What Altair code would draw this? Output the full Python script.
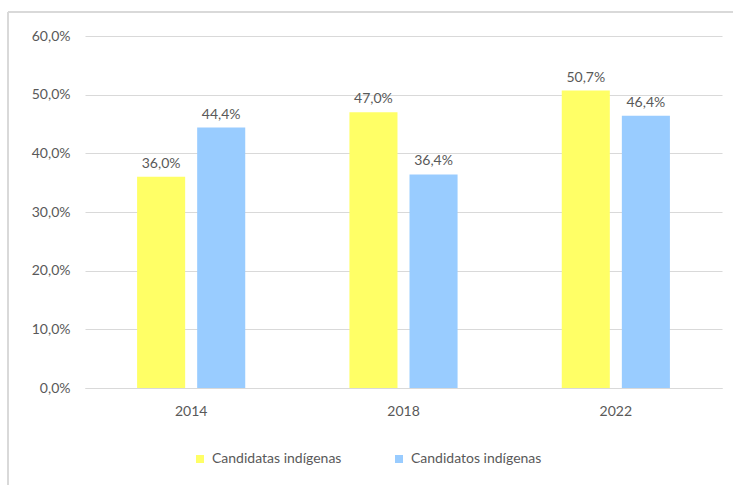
import altair as alt
import pandas as pd

years = ["2014", "2018", "2022"]
series = ["Candidatas indígenas", "Candidatos indígenas"]
candidatas = [36.0, 47.0, 50.7]
candidatos = [44.4, 36.4, 46.4]
colors = ["#FFFF66", "#99CCFF"]

rows = []
for i, y in enumerate(years):
    rows.append({"year": y, "serie": series[0], "v": candidatas[i]})
    rows.append({"year": y, "serie": series[1], "v": candidatos[i]})
df = pd.DataFrame(rows)

FONT = "Lato"
GREY = "#595959"
FS = 14
W, H = 637, 352

x = alt.X("year:N", sort=years, title=None,
          scale=alt.Scale(paddingInner=0, paddingOuter=0),
          axis=alt.Axis(labelAngle=0, ticks=False, domainColor="#d9d9d9",
                        labelPadding=16, labelFontSize=FS, labelFont=FONT,
                        labelColor=GREY, grid=False))
xo = alt.XOffset("serie:N", sort=series,
                 scale=alt.Scale(paddingInner=0.2, paddingOuter=0.867))
y = alt.Y("v:Q", title=None,
          scale=alt.Scale(domain=[0, 60], nice=False),
          axis=alt.Axis(values=[0, 10, 20, 30, 40, 50, 60], domain=False, ticks=False,
                        labelPadding=15, labelFontSize=FS, labelFont=FONT,
                        labelColor=GREY, gridColor="#d9d9d9", gridWidth=1,
                        labelExpr="replace(format(datum.value,'.1f'),'.',',') + '%'"))

color = alt.Color("serie:N", sort=series,
                  scale=alt.Scale(domain=series, range=colors),
                  legend=alt.Legend(title=None, orient="none", direction="horizontal",
                                    legendX=108, legendY=416, symbolType="square",
                                    symbolSize=64, symbolStrokeWidth=0,
                                    labelFont=FONT, labelFontSize=FS, labelColor=GREY,
                                    columnPadding=50, labelOffset=5, labelLimit=300))

bars = alt.Chart(df).mark_bar().encode(x=x, xOffset=xo, y=y, color=color)

labels = alt.Chart(df).transform_calculate(
    lab="replace(format(datum.v,'.1f'),'.',',') + '%'"
).mark_text(baseline="bottom", dy=-6, font=FONT, fontSize=FS, color=GREY).encode(
    x=x, xOffset=xo, y=y, text="lab:N")

border_left = alt.Chart(df).mark_rule(color="#d9d9d9", strokeWidth=1.5).encode(
    x=alt.value(-77), y=alt.value(-24), y2=alt.value(H + 120))
border_top = alt.Chart(df).mark_rule(color="#d9d9d9", strokeWidth=1.5).encode(
    x=alt.value(-77), x2=alt.value(W + 40), y=alt.value(-24))

chart = alt.layer(bars, labels, border_left, border_top).properties(
    width=W, height=H,
    autosize=alt.AutoSizeParams(type="none"),
    padding={"left": 85, "top": 36, "right": 11, "bottom": 97},
    background="white",
).configure_view(strokeWidth=0, stroke="transparent")

chart.save("out.html", embed_options={"renderer": "svg", "actions": False})
